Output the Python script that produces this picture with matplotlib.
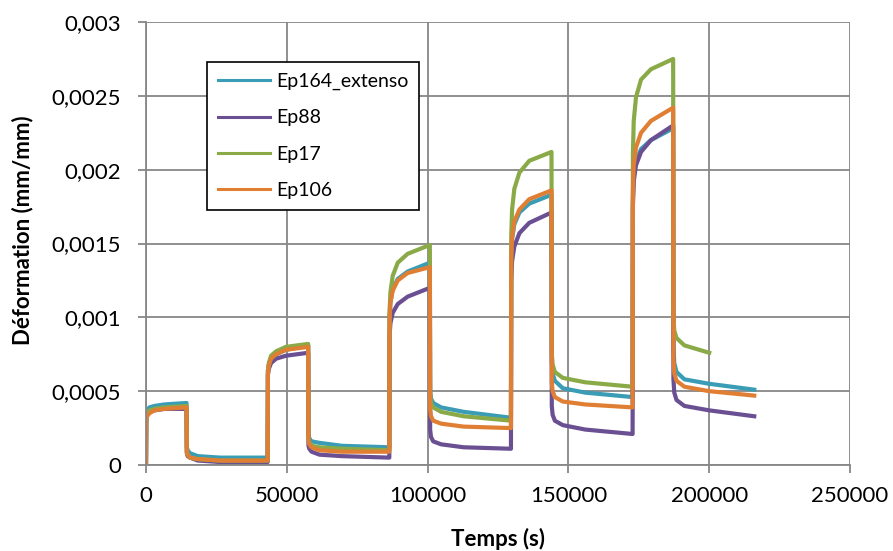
import numpy as np
import matplotlib
matplotlib.use("Agg")
import matplotlib.pyplot as plt

plt.rcParams['font.family'] = ['Lato', 'DejaVu Sans']

# temps (s) : 5 cycles charge (14400 s) / décharge (28800 s)
temps = [0,
         100, 400, 1200, 3000, 6500, 14400,
         14500, 14800, 15600, 18400, 26400, 43200,
         43300, 43600, 44400, 46200, 49700, 57600,
         57700, 58000, 58800, 61600, 69600, 86400,
         86500, 86800, 87600, 89400, 92900, 100800,
         100900, 101200, 102000, 104800, 112800, 129600,
         129700, 130000, 130800, 132600, 136100, 144000,
         144100, 144400, 145200, 148000, 156000, 172800,
         172900, 173200, 174000, 175800, 179300, 187200,
         187300, 187600, 188400, 191200, 200000, 216000]

ep164 = [0,
         0.00035, 0.00037, 0.00039, 0.00040, 0.00041, 0.00042,
         0.00012, 0.00010, 0.00008, 0.00006, 0.00005, 0.00005,
         0.00064, 0.00068, 0.00072, 0.00075, 0.00078, 0.00081,
         0.00021, 0.00018, 0.00016, 0.00015, 0.00013, 0.00012,
         0.00100, 0.00110, 0.00119, 0.00126, 0.00131, 0.00137,
         0.00050, 0.00045, 0.00042, 0.00039, 0.00036, 0.00032,
         0.00140, 0.00153, 0.00163, 0.00171, 0.00177, 0.00183,
         0.00070, 0.00062, 0.00057, 0.00052, 0.00049, 0.00046,
         0.00180, 0.00196, 0.00206, 0.00214, 0.00220, 0.00228,
         0.00080, 0.00069, 0.00063, 0.00058, 0.00055, 0.00051]

ep88 = [0,
        0.00032, 0.00034, 0.00036, 0.00037, 0.00038, 0.00038,
        0.00008, 0.00006, 0.00005, 0.00003, 0.00002, 0.00002,
        0.00061, 0.00065, 0.00069, 0.00072, 0.00074, 0.00076,
        0.00013, 0.00011, 0.00009, 0.00007, 0.00006, 0.00005,
        0.00088, 0.00096, 0.00103, 0.00109, 0.00114, 0.00120,
        0.00024, 0.00019, 0.00016, 0.00014, 0.00012, 0.00011,
        0.00125, 0.00138, 0.00148, 0.00157, 0.00164, 0.00171,
        0.00040, 0.00034, 0.00030, 0.00027, 0.00024, 0.00021,
        0.00175, 0.00192, 0.00203, 0.00212, 0.00220, 0.00230,
        0.00058, 0.00049, 0.00044, 0.00040, 0.00037, 0.00033]

ep17 = [0,
        0.00033, 0.00035, 0.00037, 0.00038, 0.00039, 0.00040,
        0.00009, 0.00007, 0.00005, 0.00004, 0.00003, 0.00003,
        0.00064, 0.00069, 0.00074, 0.00077, 0.00080, 0.00082,
        0.00018, 0.00015, 0.00013, 0.00012, 0.00011, 0.00010,
        0.00105, 0.00117, 0.00128, 0.00137, 0.00143, 0.00149,
        0.00047, 0.00042, 0.00039, 0.00036, 0.00033, 0.00030,
        0.00155, 0.00173, 0.00187, 0.00198, 0.00206, 0.00212,
        0.00076, 0.00068, 0.00063, 0.00059, 0.00056, 0.00053,
        0.00210, 0.00233, 0.00249, 0.00261, 0.00268, 0.00275,
        0.00100, 0.00091, 0.00086, 0.00081, 0.00076, None]

ep106 = [0,
         0.00031, 0.00033, 0.00035, 0.00037, 0.00038, 0.00039,
         0.00009, 0.00007, 0.00005, 0.00004, 0.00003, 0.00003,
         0.00062, 0.00067, 0.00072, 0.00075, 0.00078, 0.00080,
         0.00017, 0.00014, 0.00012, 0.00010, 0.00009, 0.00009,
         0.00100, 0.00110, 0.00118, 0.00125, 0.00130, 0.00134,
         0.00038, 0.00033, 0.00030, 0.00028, 0.00026, 0.00025,
         0.00140, 0.00154, 0.00165, 0.00173, 0.00180, 0.00186,
         0.00056, 0.00050, 0.00046, 0.00043, 0.00041, 0.00039,
         0.00185, 0.00203, 0.00215, 0.00225, 0.00233, 0.00242,
         0.00072, 0.00062, 0.00057, 0.00053, 0.00050, 0.00047]

noms = ["Ep164_extenso", "Ep88", "Ep17", "Ep106"]
couleurs = ["#3A9DB5", "#6A4F92", "#8AAA48", "#E07F34"]
series = [ep164, ep88, ep17, ep106]

fig = plt.figure(figsize=(8.93, 5.51), dpi=100)
ax = fig.add_axes([146/893, 86/551, 704/893, 443/551])

for nom, c, s in zip(noms, couleurs, series):
    y = np.array([np.nan if v is None else v for v in s], dtype=float)
    ax.plot(temps, y, color=c, lw=3, label=nom, solid_joinstyle="round")

ax.set_xlim(0, 250000)
ax.set_ylim(0, 0.003)
xt = [0, 50000, 100000, 150000, 200000, 250000]
yt = [0, 0.0005, 0.001, 0.0015, 0.002, 0.0025, 0.003]
ax.set_xticks(xt)
ax.set_xticklabels([str(v) for v in xt])
ax.set_yticks(yt)
ax.set_yticklabels(["0", "0,0005", "0,001", "0,0015", "0,002", "0,0025", "0,003"])
ax.grid(True, color="#878787", lw=1.3)
ax.set_axisbelow(True)
for sp in ["top", "right"]:
    ax.spines[sp].set_visible(False)
for sp in ["left", "bottom"]:
    ax.spines[sp].set_color("#878787")
    ax.spines[sp].set_linewidth(1.3)
ax.tick_params(colors="#878787", labelcolor="black", labelsize=16, length=6, width=1.3)
ax.tick_params(axis="x", pad=9)
ax.tick_params(axis="y", pad=12)

ax.set_xlabel("Temps (s)", fontsize=16, fontweight="bold")
ax.set_ylabel("Déformation (mm/mm)", fontsize=16, fontweight="bold")
ax.xaxis.set_label_coords(0.5, -0.142)
ax.yaxis.set_label_coords(-0.16, 0.53)

leg = ax.legend(loc="upper left", bbox_to_anchor=(0.0866, 0.9097), fontsize=14,
                fancybox=False, framealpha=1, edgecolor="black",
                handlelength=2.7, handletextpad=0.3, borderpad=0.55,
                labelspacing=1.0, borderaxespad=0)
leg.get_frame().set_linewidth(1.2)
for h in leg.get_lines():
    h.set_linewidth(2.2)

fig.savefig("out.png", dpi=100)
